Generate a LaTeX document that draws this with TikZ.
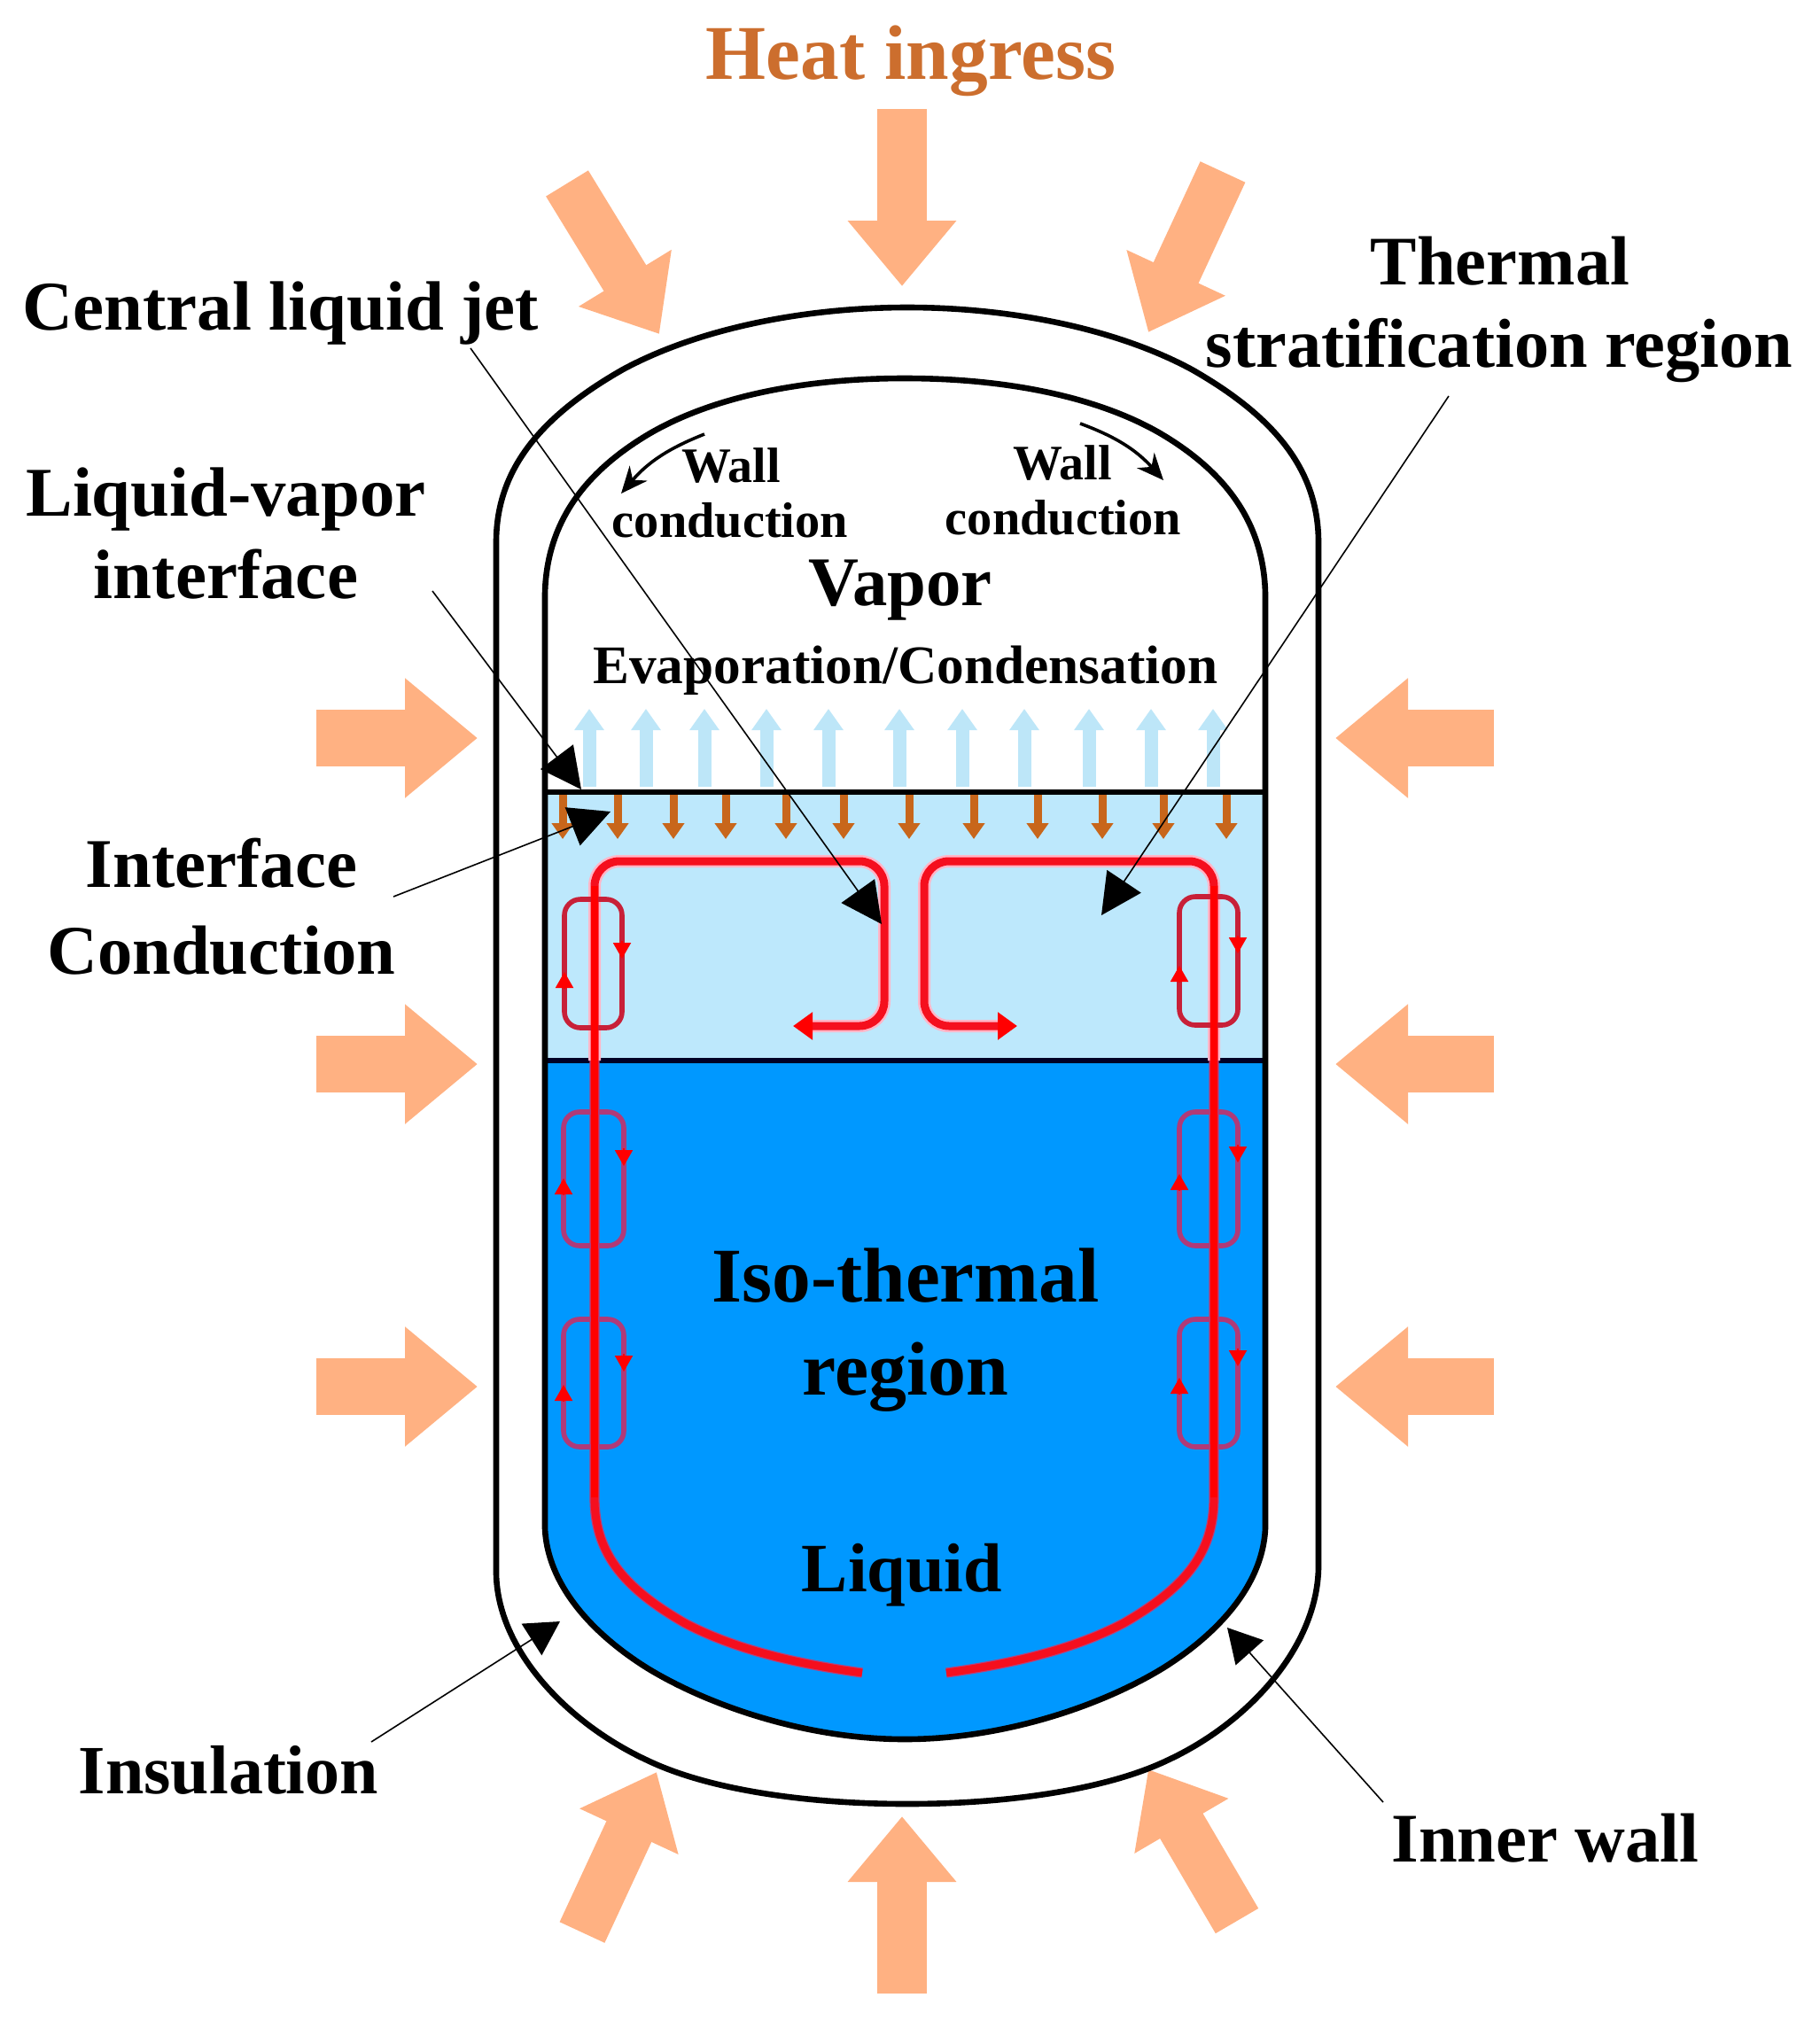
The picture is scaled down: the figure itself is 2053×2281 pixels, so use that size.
\documentclass[tikz,border=0pt]{standalone}
\usepackage{fontspec}
\usepackage{graphicx}
\setmainfont{Liberation Serif}
\usetikzlibrary{arrows.meta}
\definecolor{peach}{HTML}{FFB182}
\definecolor{stratblue}{HTML}{BDE8FC}
\definecolor{liquidblue}{HTML}{0098FF}
\definecolor{upblue}{HTML}{BDE6F8}
\definecolor{brownarr}{HTML}{C8661B}
\definecolor{redmain}{HTML}{F50F1E}
\definecolor{halopink}{HTML}{FFB6C8}
\definecolor{halomag}{HTML}{B8407A}
\definecolor{loopred}{HTML}{C82038}
\definecolor{loopmag}{HTML}{B03A78}
\definecolor{heatcol}{HTML}{CC6E2E}
\def\innerpath{(615,670) .. controls (617,585) and (665,530) .. (732,490) .. controls (800,450) and (900,427) .. (1021,427) .. controls (1142,427) and (1243,450) .. (1311,490) .. controls (1378,530) and (1426,585) .. (1428,670) -- (1428,1725) .. controls (1425,1790) and (1373,1845) .. (1312,1883) .. controls (1243,1925) and (1133,1963) .. (1021,1963) .. controls (910,1963) and (800,1925) .. (731,1883) .. controls (670,1845) and (618,1790) .. (615,1725) -- cycle}
\def\outerpath{(560,612) .. controls (560,530) and (610,470) .. (703,417) .. controls (790,370) and (910,347) .. (1024,347) .. controls (1138,347) and (1258,370) .. (1345,417) .. controls (1438,470) and (1488,530) .. (1488,612) -- (1488,1770) .. controls (1486,1860) and (1408,1945) .. (1317,1987) .. controls (1248,2020) and (1136,2036) .. (1024,2036) .. controls (910,2036) and (800,2020) .. (731,1987) .. controls (640,1945) and (558,1860) .. (560,1770) -- cycle}
\def\mainL{(973,1888) .. controls (900,1878) and (830,1862) .. (773,1832) .. controls (700,1790) and (671,1750) .. (671,1690)}
\def\mainR{(1068,1888) .. controls (1141,1878) and (1211,1862) .. (1268,1832) .. controls (1341,1790) and (1370,1750) .. (1370,1690)}
\newcommand{\lab}[6][black]{\node[inner sep=0pt,text=#1] (#2) at (#3,#4) {\resizebox{\dimexpr #5pt/2\relax}{!}{\bfseries #6}};}
\tikzset{
  x=0.5pt,y=-0.5pt,
  block/.style={draw=peach,line width=28pt,-{Triangle[length=37pt,width=59pt,color=peach]}},
  sideblock/.style={draw=peach,line width=32pt,-{Triangle[length=41pt,width=65pt,color=peach]}},
  upa/.style={draw=upblue,line width=7.5pt,-{Triangle[length=12pt,width=16pt,color=upblue]}},
  downa/.style={draw=brownarr,line width=4.5pt,-{Triangle[length=9pt,width=12pt,color=brownarr]}},
  leader/.style={draw=black,line width=0.8pt,-{Triangle[length=23pt,width=23pt,color=black]}},
  smallleader/.style={draw=black,line width=0.8pt,-{Triangle[length=19pt,width=21pt,color=black]}},
  wallarr/.style={draw=black,line width=1.8pt,-{Stealth[length=15pt,width=13pt,color=black]}},
  jet/.style={draw=redmain,line width=4.5pt,rounded corners=14pt,-{Triangle[length=11pt,width=15pt,color=red]}},
  jethalo/.style={draw=halopink,line width=7pt,rounded corners=14pt},
  loopbox/.style={line width=2.8pt,rounded corners=9pt},
  looparr/.style={line width=1pt,draw=red,-{Triangle[length=9pt,width=10pt,color=red]}},
  wall/.style={draw=black,line width=3.3pt},
  floor/.style={draw=black,line width=3pt},
}
\begin{document}
\begin{tikzpicture}
\useasboundingbox (0,0) rectangle (2053,2281);
% heat arrows
\foreach \n/\ax/\ay/\bx/\by in {t/1018/123/1018/323,tl/640/207/744/377,tr/1380/194/1296/375,
  b/1018/2250/1018/2050,bl/657/2181/741/2000,br/1396/2168/1296/1997}{
  \coordinate (ha\n) at (\ax,\ay);
  \coordinate (hb\n) at (\bx,\by);
  \draw[block] (ha\n) -- (hb\n);
}
\foreach \n/\ax/\ay/\bx/\by in {l1/357/833/539/833,l2/357/1201/539/1201,l3/357/1565/539/1565,
  r1/1686/833/1507/833,r2/1686/1201/1507/1201,r3/1686/1565/1507/1565}{
  \coordinate (ha\n) at (\ax,\ay);
  \coordinate (hb\n) at (\bx,\by);
  \draw[sideblock] (ha\n) -- (hb\n);
}
% vessel
\draw[wall,fill=white] \outerpath;
\begin{scope}
\clip \innerpath;
\fill[white] (500,300) rectangle (1500,894);
\fill[stratblue] (500,894) rectangle (1500,1197);
\fill[liquidblue] (500,1197) rectangle (1500,2100);
\end{scope}
% evaporation arrows
\foreach \x in {665,729,795,865,935,1015,1086,1156,1229,1299,1369}{
  \coordinate (ua\x) at (\x,888);
  \coordinate (ub\x) at (\x,800);
  \draw[upa] (ua\x) -- (ub\x);
}
\draw[floor] (615,894) -- (1428,894);
\draw[floor,draw=black!85!blue] (615,1197) -- (1428,1197);
\foreach \x in {635,697,760,819,887,952,1026,1099,1171,1244,1313,1384}{
  \coordinate (da\x) at (\x,897);
  \coordinate (db\x) at (\x,947);
  \draw[downa] (da\x) -- (db\x);
}
\draw[wall] \innerpath;
% main circulation
\draw[jethalo] (671,1197) -- (671,972) -- (998,972) -- (998,1158) -- (917,1158);
\draw[jethalo] (1370,1197) -- (1370,972) -- (1043,972) -- (1043,1158) -- (1126,1158);
\draw[halomag,line width=5.6pt] \mainL -- (671,1197);
\draw[halomag,line width=5.6pt] \mainR -- (1370,1197);
\draw[redmain,line width=4.4pt] \mainL -- (671,1197);
\draw[redmain,line width=4.4pt] \mainR -- (1370,1197);
\coordinate (ljet) at (895,1158);
\coordinate (rjet) at (1148,1158);
\draw[jet] (671,1197) -- (671,972) -- (998,972) -- (998,1158) -- (ljet);
\draw[jet] (1370,1197) -- (1370,972) -- (1043,972) -- (1043,1158) -- (rjet);
% small loops
\draw[loopbox,loopred] (637,1015) rectangle (702,1160);
\draw[loopbox,loopred] (1331,1012) rectangle (1397,1157);
\foreach \a/\b in {1255/1406,1489/1633}{
  \draw[loopbox,loopmag] (636,\a) rectangle (704,\b);
  \draw[loopbox,loopmag] (1331,\a) rectangle (1397,\b);
}
\draw[red,line width=4.2pt] (671,1000) -- (671,1690);
\draw[red,line width=4.2pt] (1370,1000) -- (1370,1690);
\foreach \lx/\rx/\ly/\ry in {637/702/1097/1062,636/704/1330/1296,636/704/1563/1528,1331/1397/1090/1056,1331/1397/1325/1292,1331/1397/1555/1522}{
  \coordinate (lla) at (\lx,\ly+18);
  \coordinate (llb) at (\lx,\ly);
  \coordinate (lra) at (\rx,\ry);
  \coordinate (lrb) at (\rx,\ry+20);
  \draw[looparr] (lla) -- (llb);
  \draw[looparr] (lra) -- (lrb);
}
% wall conduction
\coordinate (wla) at (795,490); \coordinate (wlb) at (701,557);
\coordinate (wra) at (1219,478); \coordinate (wrb) at (1313,542);
\draw[wallarr] (wla) to[bend right=14] (wlb);
\draw[wallarr] (wra) to[bend left=14] (wrb);
% labels
\lab[heatcol]{heat}{1028}{69}{462}{Heat ingress}
\lab{cjet}{317}{354}{582}{Central liquid jet}
\lab{therm}{1693}{295}{292}{Thermal}
\lab{strat}{1692}{396}{662}{stratification region}
\lab{lv}{255}{564}{451}{Liquid-vapor}
\lab{lvi}{255}{648}{298}{interface}
\lab{wa}{825}{525}{112}{Wall}
\lab{wb}{824}{587}{266}{conduction}
\lab{wc}{1199}{522}{112}{Wall}
\lab{wd}{1200}{584}{266}{conduction}
\lab{vap}{1016}{666}{207}{Vapor}
\lab{evap}{1022}{757}{705}{Evaporation/Condensation}
\lab{ifa}{250}{974}{306}{Interface}
\lab{ifb}{250}{1073}{393}{Conduction}
\lab{iso}{1022}{1440}{437}{Iso-thermal}
\lab{reg}{1022}{1554}{232}{region}
\lab{liq}{1018}{1778}{226}{Liquid}
\lab{ins}{258}{1998}{338}{Insulation}
\lab{iw}{1744}{2075}{347}{Inner wall}
% leaders
\coordinate (s1) at (531,393); \coordinate (e1) at (995,1043);
\coordinate (s2) at (488,667); \coordinate (e2) at (656,891);
\coordinate (s3) at (444,1012); \coordinate (e3) at (689,916);
\coordinate (s4) at (1635,447); \coordinate (e4) at (1243,1033);
\coordinate (s5) at (419,1966); \coordinate (e5) at (632,1830);
\coordinate (s6) at (1561,2034); \coordinate (e6) at (1385,1837);
\foreach \i in {1,...,4}{\draw[leader] (s\i) -- (e\i);}
\foreach \i in {5,6}{\draw[smallleader] (s\i) -- (e\i);}
\end{tikzpicture}
\end{document}
